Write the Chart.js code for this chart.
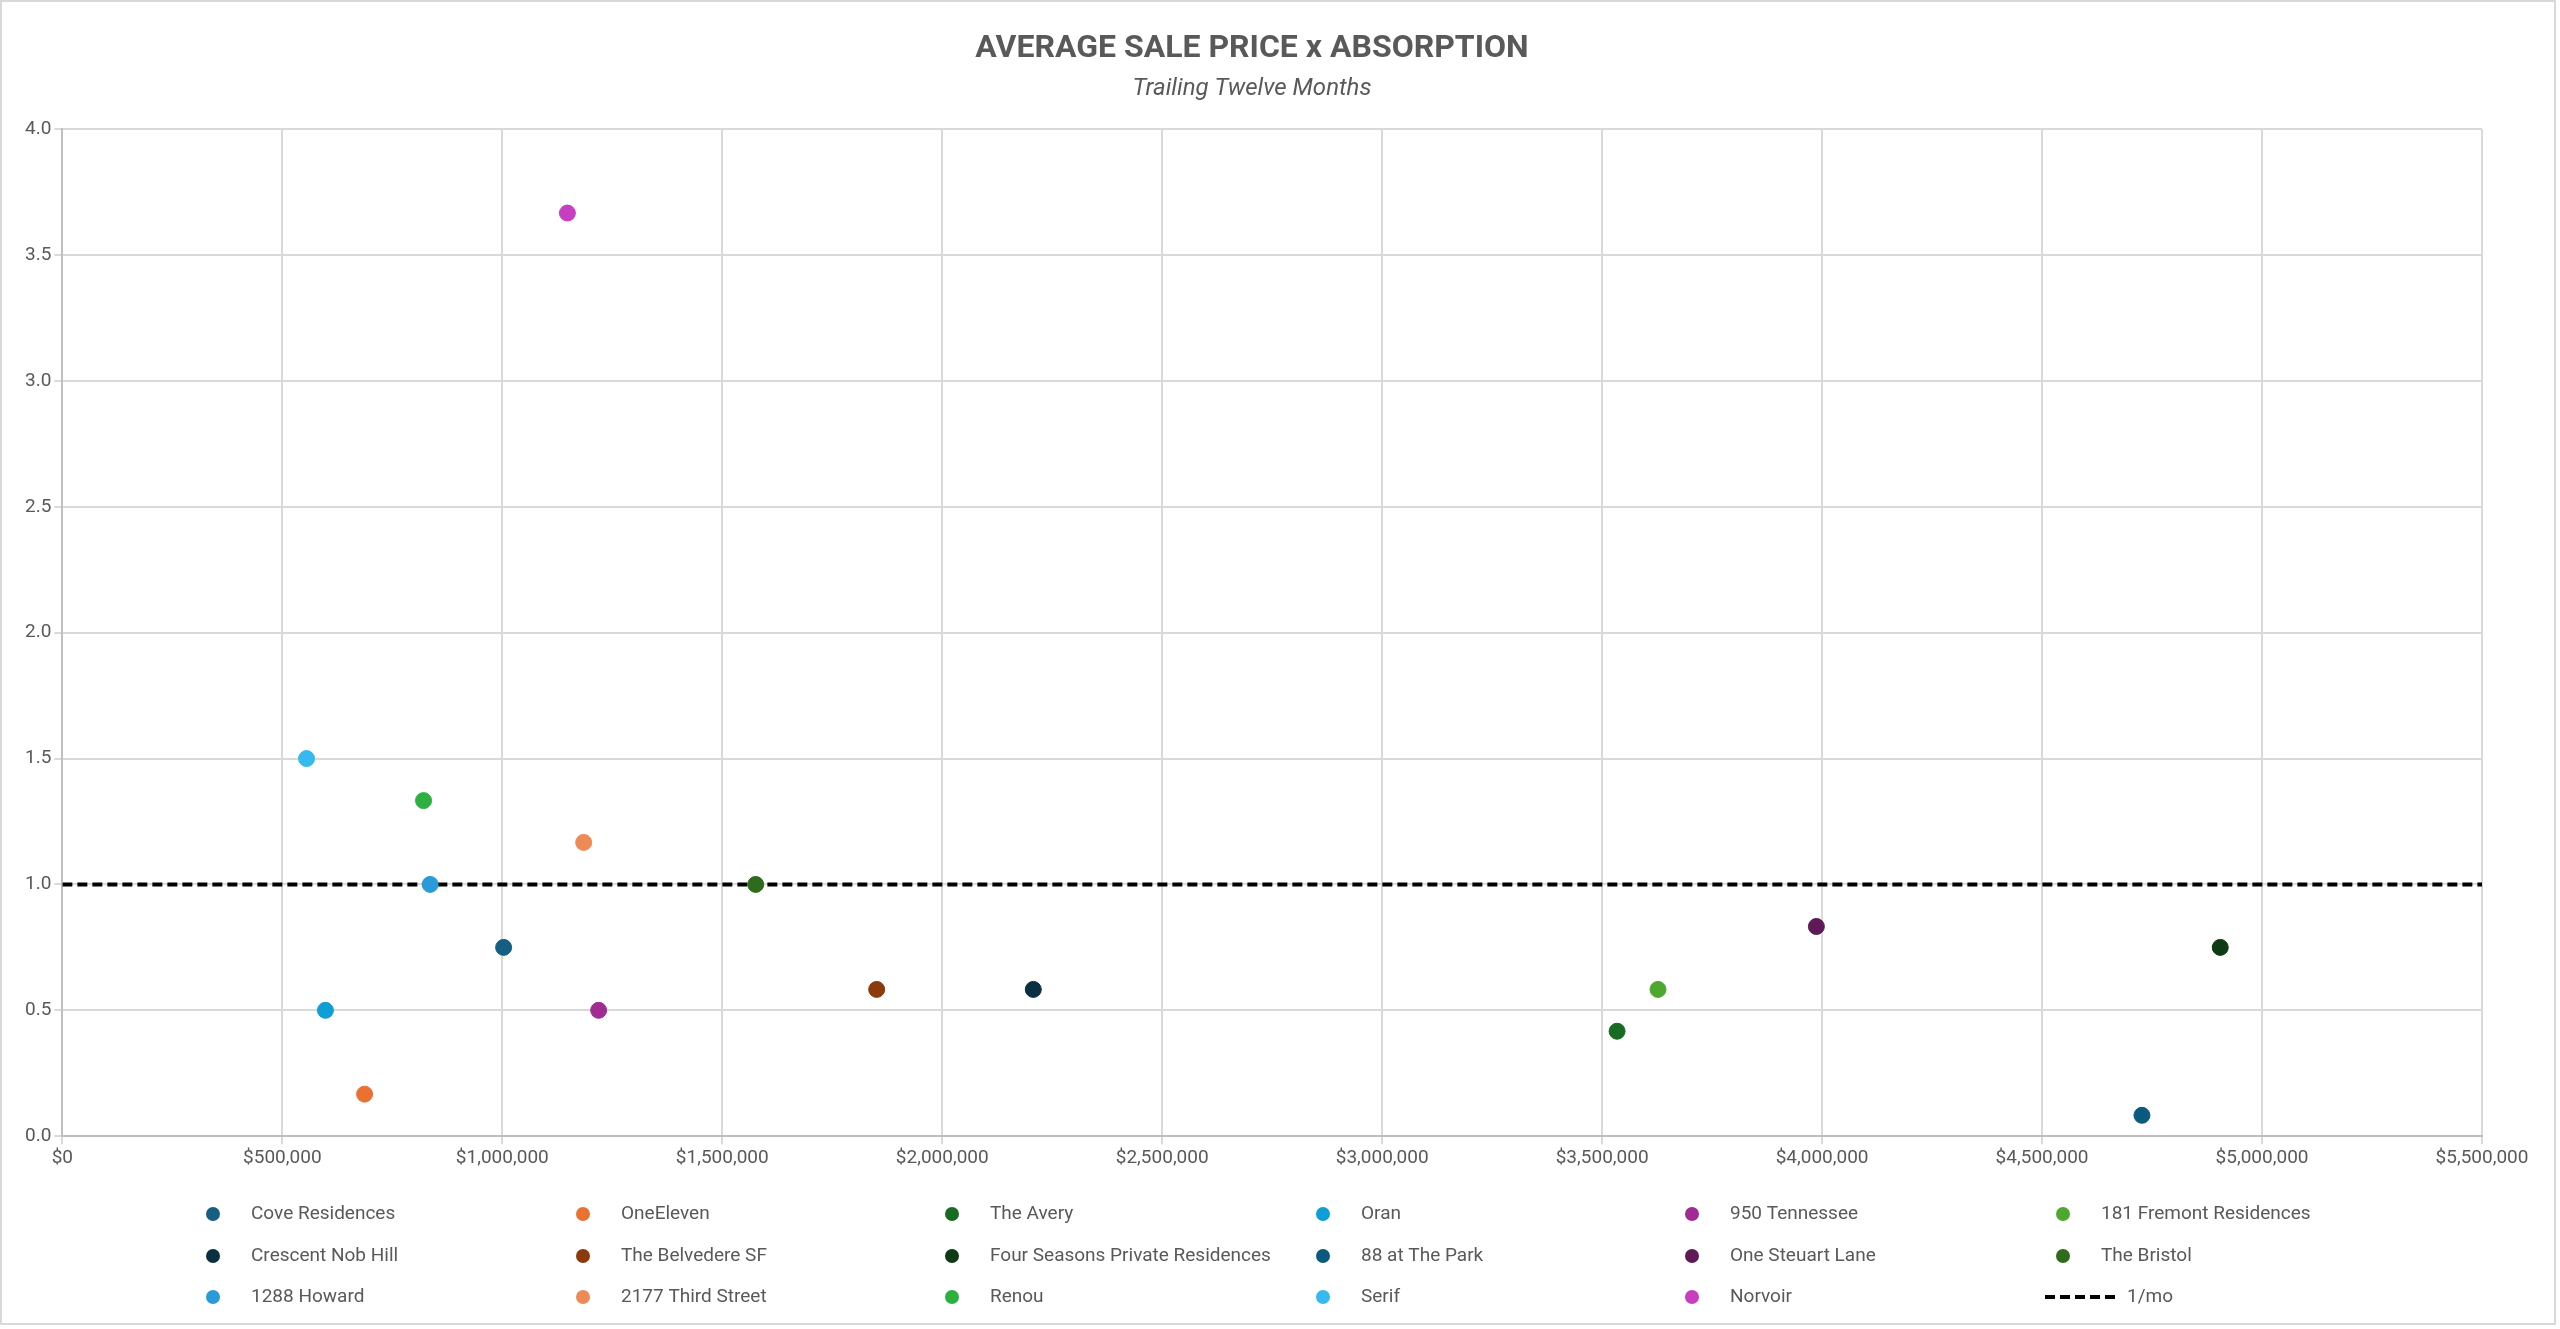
<!DOCTYPE html>
<html>
<head>
<meta charset="utf-8">
<script src="https://cdn.jsdelivr.net/npm/chart.js@4/dist/chart.umd.min.js"></script>
<style>
html,body{margin:0;padding:0;background:#fff;}
#wrap{width:2556px;height:1325px;border:2px solid #d9d9d9;box-sizing:border-box;}
</style>
</head>
<body>
<div id="wrap"><canvas id="myChart" width="2552" height="1321"></canvas></div>
<script>
var names = ["Cove Residences", "OneEleven", "The Avery", "Oran", "950 Tennessee", "181 Fremont Residences",
  "Crescent Nob Hill", "The Belvedere SF", "Four Seasons Private Residences", "88 at The Park", "One Steuart Lane", "The Bristol",
  "1288 Howard", "2177 Third Street", "Renou", "Serif", "Norvoir"];
var prices = [1003000, 687000, 3534000, 598000, 1219000, 3627000,
  2207000, 1851000, 4905000, 4727000, 3987000, 1576000,
  836000, 1185000, 821000, 555000, 1148000];
var absorption = [0.75, 0.167, 0.417, 0.5, 0.5, 0.583,
  0.583, 0.583, 0.75, 0.083, 0.833, 1.0,
  1.0, 1.167, 1.333, 1.5, 3.667];
var colors = ["#156082", "#E97132", "#196B24", "#0F9ED5", "#A02B93", "#4EA72E",
  "#0B3041", "#8A3A0C", "#0E3A14", "#0A5A7E", "#5E1A56", "#2F6B1C",
  "#2A9BD8", "#EE8A56", "#2DB040", "#35B9EE", "#C83EC0"];
var refLine = [{x: 0, y: 1}, {x: 5500000, y: 1}];

var ctx = document.getElementById('myChart').getContext('2d');
var datasets = names.map(function (n, i) {
  return {
    type: 'scatter',
    label: n,
    data: [{x: prices[i], y: absorption[i]}],
    backgroundColor: colors[i],
    borderColor: colors[i],
    pointRadius: 8,
    pointStyle: 'circle'
  };
});
datasets.push({
  type: 'line',
  label: '1/mo',
  data: refLine,
  borderColor: '#000',
  borderWidth: 4,
  borderDash: [10, 5],
  pointRadius: 0
});

// grid legend: 6 columns x 3 rows, like the original
var gridLegend = {
  id: 'gridLegend',
  afterDraw: function (chart) {
    var c = chart.ctx;
    var colX = [211, 581, 950, 1321, 1690, 2061];
    var rowY = [1212, 1254, 1295];
    c.save();
    c.font = '19px Roboto';
    c.textBaseline = 'middle';
    c.fillStyle = '#595959';
    chart.data.datasets.forEach(function (ds, i) {
      var x = colX[i % 6], y = rowY[Math.floor(i / 6)];
      if (ds.type === 'line') {
        c.strokeStyle = ds.borderColor;
        c.lineWidth = 4;
        c.setLineDash([10, 5]);
        c.beginPath();
        c.moveTo(x - 18, y);
        c.lineTo(x + 52, y);
        c.stroke();
        c.setLineDash([]);
        c.fillStyle = '#595959';
        c.fillText(ds.label, x + 64, y);
      } else {
        c.fillStyle = ds.backgroundColor;
        c.beginPath();
        c.arc(x, y, 7, 0, Math.PI * 2);
        c.fill();
        c.fillStyle = '#595959';
        c.fillText(ds.label, x + 38, y);
      }
    });
    c.restore();
  }
};

var myChart = new Chart(ctx, {
  type: 'scatter',
  data: {datasets: datasets},
  plugins: [gridLegend],
  options: {
    responsive: false,
    animation: false,
    layout: {padding: {left: 20, right: 72, top: 10, bottom: 150}},
    plugins: {
      title: {
        display: true,
        text: 'AVERAGE SALE PRICE x ABSORPTION',
        color: '#595959',
        font: {family: 'Roboto', size: 32, weight: 'bold'},
        padding: {top: 18, bottom: 0}
      },
      subtitle: {
        display: true,
        text: 'Trailing Twelve Months',
        color: '#595959',
        font: {family: 'Roboto', size: 24, style: 'italic'},
        padding: {top: 6, bottom: 26}
      },
      legend: {display: false},
      tooltip: {enabled: false}
    },
    scales: {
      x: {
        type: 'linear',
        min: 0,
        max: 5500000,
        ticks: {
          stepSize: 500000,
          color: '#595959',
          font: {family: 'Roboto', size: 19},
          callback: function (v) { return '$' + v.toLocaleString('en-US'); }
        },
        grid: {color: '#d9d9d9', lineWidth: 2},
        border: {color: '#bfbfbf', width: 2}
      },
      y: {
        min: 0,
        max: 4,
        ticks: {
          stepSize: 0.5,
          color: '#595959',
          font: {family: 'Roboto', size: 19},
          callback: function (v) { return v.toFixed(1); }
        },
        grid: {color: '#d9d9d9', lineWidth: 2},
        border: {color: '#bfbfbf', width: 2}
      }
    }
  }
});
</script>
</body>
</html>
